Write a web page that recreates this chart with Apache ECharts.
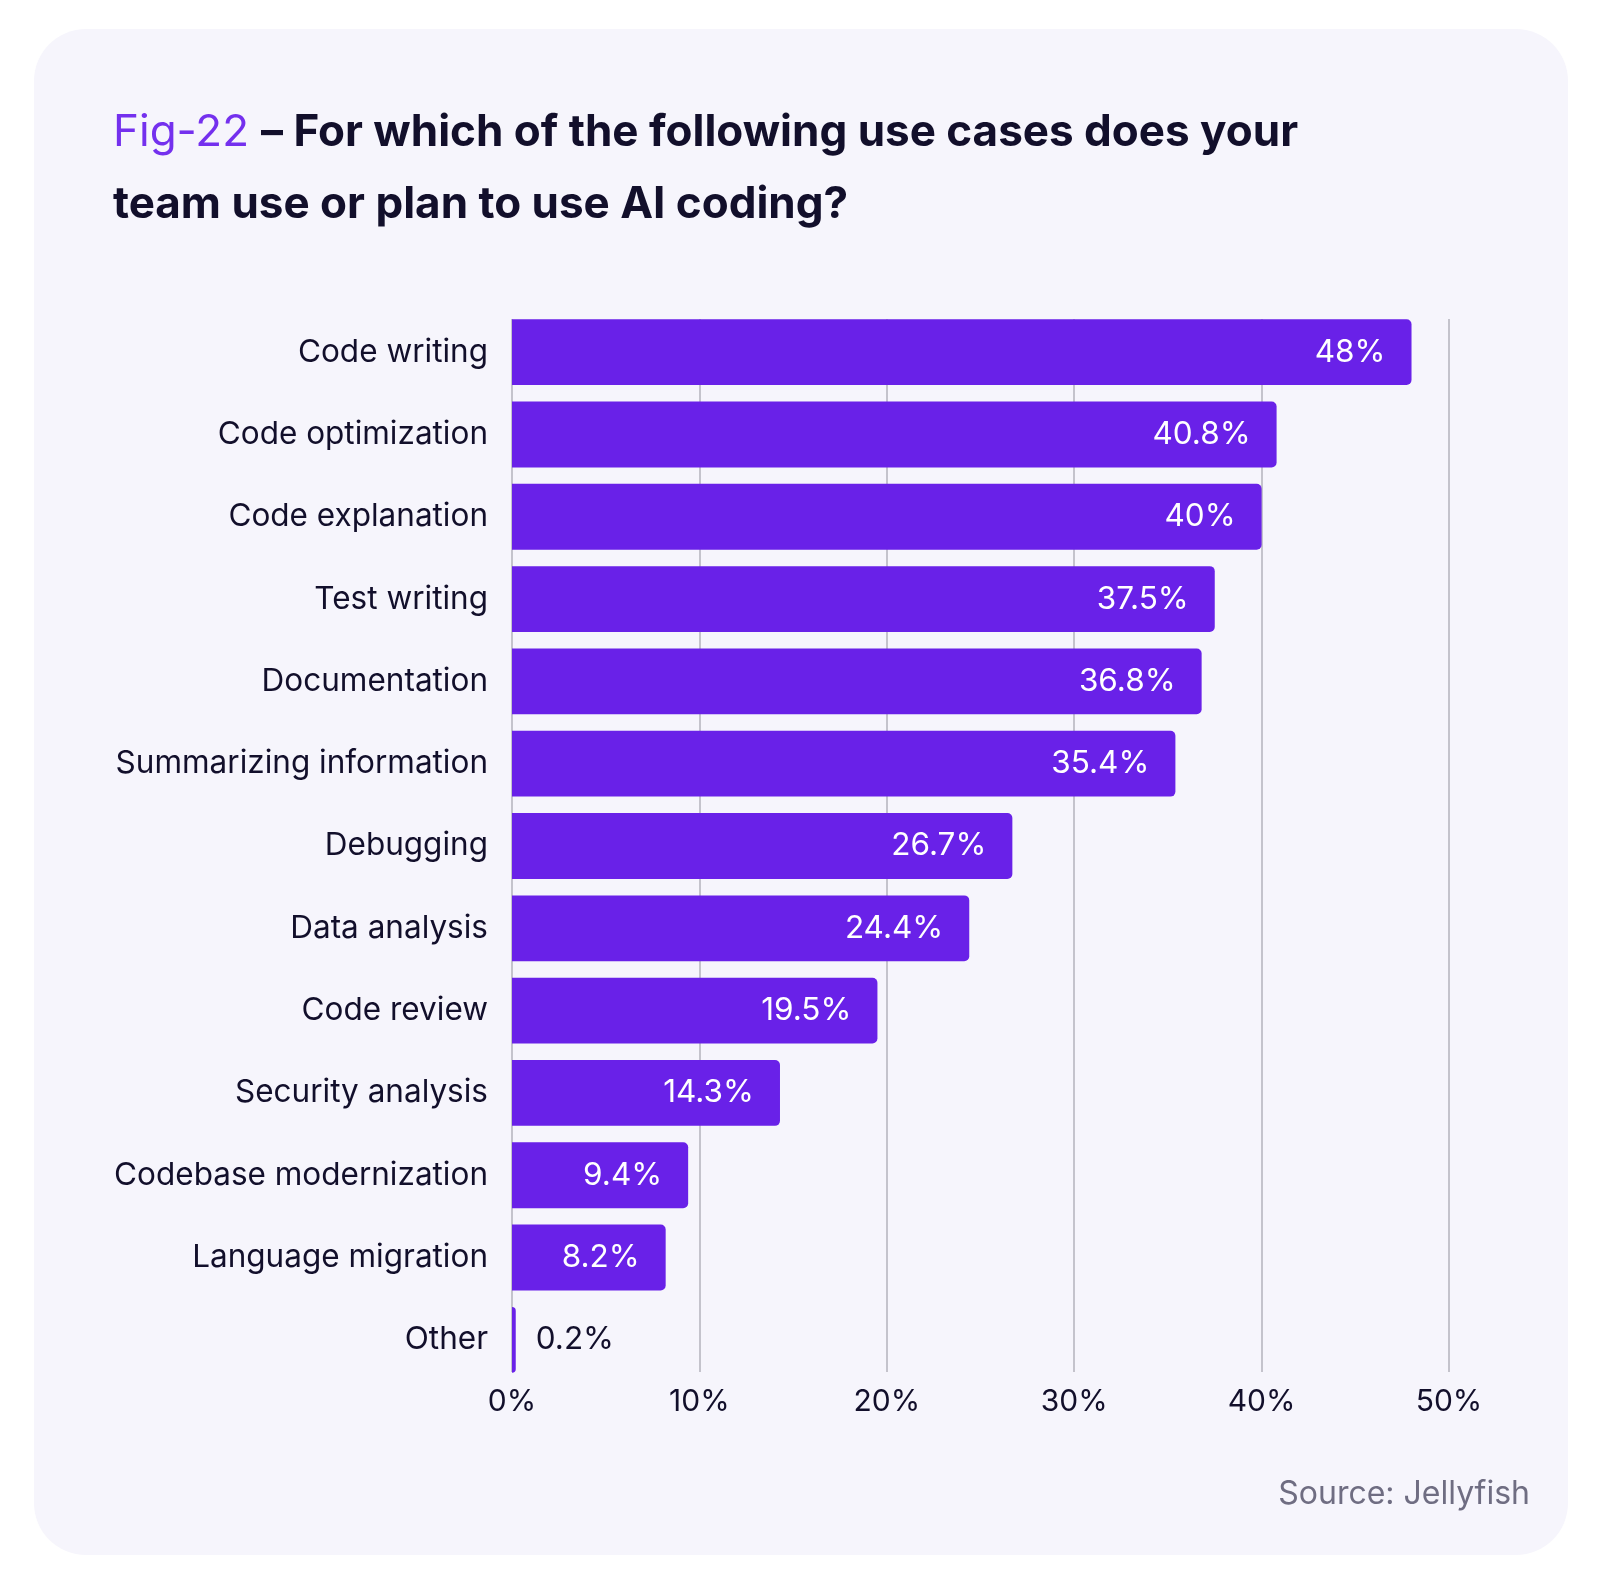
<!DOCTYPE html>
<html>
<head>
<meta charset="utf-8">
<script src="https://cdn.jsdelivr.net/npm/echarts@6/dist/echarts.min.js"></script>
<style>
  html,body{margin:0;padding:0;background:#fff;}
  #chart{width:1602px;height:1586px;}
</style>
</head>
<body>
<div id="chart"></div>
<script>
  // data
  const categories = ['Code writing','Code optimization','Code explanation','Test writing','Documentation',
    'Summarizing information','Debugging','Data analysis','Code review','Security analysis',
    'Codebase modernization','Language migration','Other'];
  const values = [48, 40.8, 40, 37.5, 36.8, 35.4, 26.7, 24.4, 19.5, 14.3, 9.4, 8.2, 0.2];
  const xTicks = [0, 10, 20, 30, 40, 50];

  const FONT = 'Inter, "Noto Sans", sans-serif';
  const PURPLE = '#6921e8';
  const INK = '#120f2b';

  const chart = echarts.init(document.getElementById('chart'));

  const seriesData = values.map(function(v){
    const small = v < 3;
    return {
      value: v,
      label: small
        ? { position: 'right', distance: 20, color: INK }
        : { position: 'insideRight', distance: 26, color: '#ffffff' }
    };
  });

  chart.setOption({
    backgroundColor: '#ffffff',
    textStyle: { fontFamily: FONT },
    graphic: [{
      type: 'rect', z: -10, silent: true,
      shape: { x: 34, y: 29, width: 1534, height: 1526, r: 52 },
      style: { fill: '#f6f5fc' }
    }, {
      type: 'text', right: 72, top: 1478,
      style: { text: 'Source: Jellyfish', fill: '#6f6d82', font: '32px ' + FONT }
    }],
    title: {
      left: 108, top: 92,
      text: '{a|Fig-22}{s| }{b|– For which of the following use cases does your}\n{b|team use or plan to use AI coding?}',
      textStyle: {
        rich: {
          a: { color: '#7430ee', fontSize: 44, fontWeight: 400, fontFamily: FONT, lineHeight: 72 },
          s: { width: 12, fontSize: 44, lineHeight: 72 },
          b: { color: INK, fontSize: 44, fontWeight: 700, fontFamily: FONT, lineHeight: 72 }
        }
      }
    },
    grid: [
      { left: 512, right: 153, top: 311, height: 1070, containLabel: false },
      { left: 512, right: 153, top: 319, height: 1053, containLabel: false }
    ],
    xAxis: [{
      gridIndex: 0, type: 'value', min: 0, max: 50, interval: 10,
      axisLine: { show: false }, axisTick: { show: false }, splitLine: { show: false },
      axisLabel: {
        margin: 6, color: INK, fontSize: 30, fontFamily: FONT,
        formatter: function(v){ return xTicks.indexOf(v) >= 0 ? v + '%' : ''; }
      }
    }, {
      gridIndex: 1, type: 'value', min: 0, max: 50, interval: 10,
      axisLine: { show: false }, axisTick: { show: false }, axisLabel: { show: false },
      splitLine: { show: true, lineStyle: { color: '#c4c3cc', width: 2 } }
    }],
    yAxis: [{
      gridIndex: 0, type: 'category', data: categories, inverse: true,
      axisLine: { show: false }, axisTick: { show: false },
      axisLabel: { margin: 24, color: INK, fontSize: 31.5, fontFamily: FONT }
    }, {
      gridIndex: 1, type: 'category', data: categories, show: false
    }],
    series: [{
      type: 'bar', xAxisIndex: 0, yAxisIndex: 0, z: 5,
      data: seriesData,
      barWidth: '80%',
      itemStyle: { color: PURPLE, borderRadius: [0, 5, 5, 0] },
      label: {
        show: true, fontSize: 31.5, fontFamily: FONT,
        formatter: function(p){ return p.value + '%'; }
      }
    }]
  });

  window.addEventListener('resize', function(){ chart.resize(); });
</script>
</body>
</html>
